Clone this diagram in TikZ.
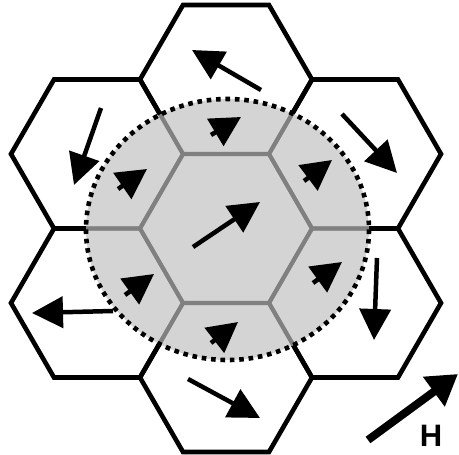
\documentclass[tikz,border=0pt]{standalone}
\usepackage{fontspec}
\setmainfont{Liberation Sans}
\usetikzlibrary{arrows.meta}
\definecolor{fillgray}{HTML}{D4D4D4}
\definecolor{edgegray}{HTML}{808080}
\tikzset{
  hexedge/.style={line width=4.6pt, draw=black, line join=miter},
  grayedge/.style={line width=4pt, draw=edgegray, line join=miter},
  bigarrow/.style={line width=4.5pt, -{Triangle[length=31pt,width=31pt]}},
  smallarrow/.style={line width=4.5pt, -{Triangle[length=30pt,width=31pt]}},
  harrow/.style={line width=8pt, -{Triangle[length=30pt,width=35pt]}},
  dotring/.style={line width=4.6pt, dash pattern=on 4.6pt off 4.8pt},
}
\begin{document}
\begin{tikzpicture}[x=1pt,y=-1pt]
\useasboundingbox (0,0) rectangle (459,455);
\def\hexcenters{226/228.5, 226/79.5, 226/377.5, 97/154, 97/303, 355/154, 355/303}
% black hexagons
\foreach \cx/\cy in \hexcenters {
  \draw[hexedge, shift={(\cx,\cy)}] (0:86) -- (60:86) -- (120:86) -- (180:86) -- (240:86) -- (300:86) -- cycle;
}
% gray disc with gray edges
\begin{scope}
  \clip (227.5,229.5) ellipse [x radius=141.5, y radius=130.5];
  \fill[fillgray] (227.5,229.5) ellipse [x radius=141.5, y radius=130.5];
  \foreach \cx/\cy in \hexcenters {
    \draw[grayedge, shift={(\cx,\cy)}] (0:86) -- (60:86) -- (120:86) -- (180:86) -- (240:86) -- (300:86) -- cycle;
  }
\end{scope}
\draw[dotring] (227.5,229.5) ellipse [x radius=141.5, y radius=130.5];
% outer arrows
\draw[bigarrow] (261,90) -- (192,50);
\draw[bigarrow] (101,108) -- (74,185);
\draw[bigarrow] (342,114) -- (397,173);
\draw[bigarrow] (113,311) -- (32,313);
\draw[bigarrow] (377,258) -- (374,340);
\draw[bigarrow] (188,379) -- (260,418);
\draw[bigarrow] (193,247) -- (260,202);
% small arrows in the gray region
\draw[smallarrow] (211,135) -- (241,117);
\draw[smallarrow] (118,189) -- (147,169);
\draw[smallarrow] (304,181) -- (332,160);
\draw[smallarrow] (125,295) -- (154,274);
\draw[smallarrow] (313,283) -- (342,262);
\draw[smallarrow] (211,343) -- (238,322);
% field
\draw[harrow] (368,440) -- (458,374);
\node[font=\fontsize{31}{31}\selectfont\bfseries, inner sep=0pt] (hlabel) at (431,435.5) {H};
\end{tikzpicture}
\end{document}
